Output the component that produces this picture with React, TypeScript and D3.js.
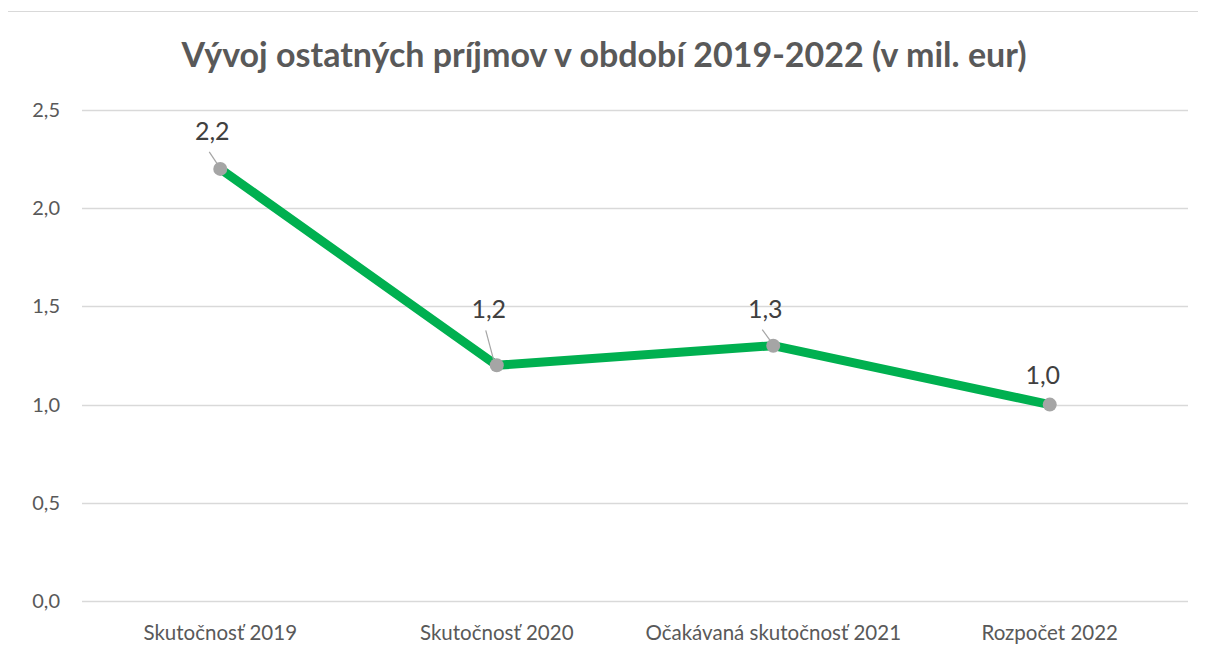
import React, { useEffect, useRef } from 'react';
import * as d3 from 'd3';

const categories = ['Skutočnosť 2019', 'Skutočnosť 2020', 'Očakávaná skutočnosť 2021', 'Rozpočet 2022'];
const values = [2.2, 1.2, 1.3, 1.0];
const yTicks = [0, 0.5, 1.0, 1.5, 2.0, 2.5];
const title = 'Vývoj ostatných príjmov v období 2019-2022 (v mil. eur)';

// manual label placement (dx, dy from point), like the moved labels in the original
const labelNudge = [[-8, -29], [-8, -47], [-8, -28], [-7, -21]];

const W = 1206;
const H = 654;
const FONT = 'Lato, "Open Sans", sans-serif';

export default function App() {
  const ref = useRef<SVGSVGElement>(null);

  useEffect(() => {
    const svg = d3.select(ref.current);
    svg.selectAll('*').remove();

    const margin = { top: 110, right: 18, bottom: 53, left: 82 };
    const w = W - margin.left - margin.right;
    const h = H - margin.top - margin.bottom;

    // chart frame (right and bottom edges fall outside the picture)
    svg.append('rect')
      .attr('x', 7.5).attr('y', 11.5)
      .attr('width', W).attr('height', H)
      .attr('fill', 'white')
      .attr('stroke', '#d9d9d9');

    svg.append('text')
      .attr('x', 604).attr('y', 67)
      .attr('text-anchor', 'middle')
      .attr('font-family', FONT)
      .attr('font-weight', 'bold')
      .attr('font-size', 34)
      .attr('fill', '#595959')
      .text(title);

    const g = svg.append('g').attr('transform', `translate(${margin.left},${margin.top})`);

    const x = d3.scalePoint<string>().domain(categories).range([0, w]).padding(0.5);
    const y = d3.scaleLinear().domain([0, 2.5]).range([h, 0]);

    g.selectAll('.grid')
      .data(yTicks)
      .join('line')
      .attr('x1', 0).attr('x2', w)
      .attr('y1', d => Math.round(y(d)) + 0.5)
      .attr('y2', d => Math.round(y(d)) + 0.5)
      .attr('stroke', '#d9d9d9')
      .attr('stroke-width', 1.5);

    g.selectAll('.ylab')
      .data(yTicks)
      .join('text')
      .attr('x', -22)
      .attr('y', d => y(d))
      .attr('dy', '0.35em')
      .attr('text-anchor', 'end')
      .attr('font-family', FONT)
      .attr('font-size', 20)
      .attr('fill', '#595959')
      .text(d => d3.format('.1f')(d).replace('.', ','));

    g.selectAll('.xlab')
      .data(categories)
      .join('text')
      .attr('x', d => x(d)!)
      .attr('y', h + 39)
      .attr('text-anchor', 'middle')
      .attr('font-family', FONT)
      .attr('font-size', 20.5)
      .attr('fill', '#595959')
      .text(d => d);

    const line = d3.line<number>()
      .x((d, i) => x(categories[i])!)
      .y(d => y(d));

    g.append('path')
      .datum(values)
      .attr('d', line)
      .attr('fill', 'none')
      .attr('stroke', '#00b050')
      .attr('stroke-width', 9)
      .attr('stroke-linejoin', 'round');

    // leader lines
    values.forEach((v, i) => {
      const px = x(categories[i])!;
      const py = y(v);
      const [dx, dy] = labelNudge[i];
      if (dy < -25) {
        g.append('line')
          .attr('x1', px + dx - 3).attr('y1', py + dy + 12)
          .attr('x2', px - 3).attr('y2', py - 5)
          .attr('stroke', '#a5a5a5')
          .attr('stroke-width', 1.2);
      }
    });

    g.selectAll('.pt')
      .data(values)
      .join('circle')
      .attr('cx', (d, i) => x(categories[i])!)
      .attr('cy', d => y(d))
      .attr('r', 7)
      .attr('fill', '#a5a5a5');

    g.selectAll('.vlab')
      .data(values)
      .join('text')
      .attr('x', (d, i) => x(categories[i])! + labelNudge[i][0])
      .attr('y', (d, i) => y(d) + labelNudge[i][1])
      .attr('text-anchor', 'middle')
      .attr('font-family', FONT)
      .attr('font-size', 25)
      .attr('fill', '#404040')
      .text(d => d3.format('.1f')(d).replace('.', ','));
  }, []);

  return <svg ref={ref} width={W} height={H} style={{ display: 'block', margin: -8 }} />;
}
